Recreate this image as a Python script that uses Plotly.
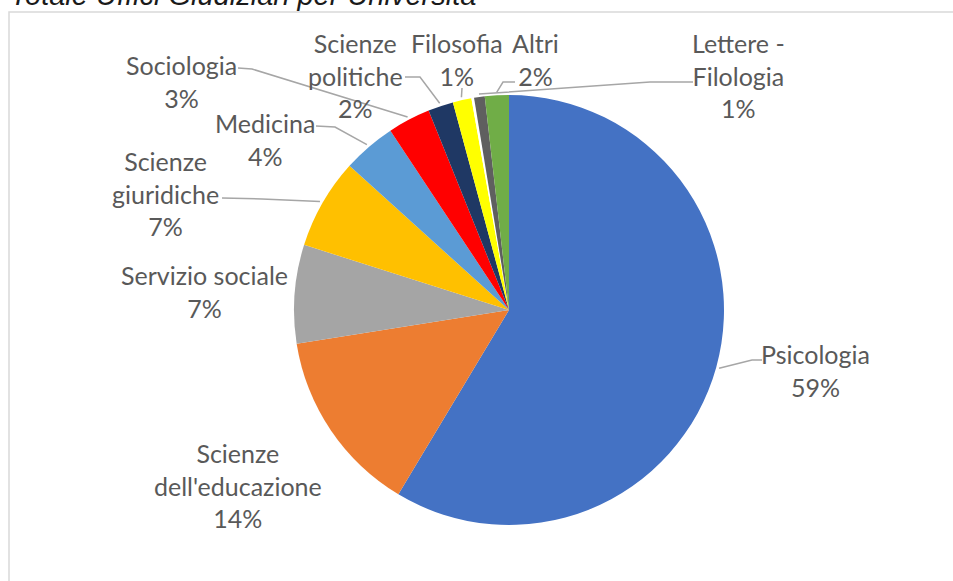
import math
import plotly.graph_objects as go

W, H = 953, 581

# ---- data ----
categories = ["Psicologia", "Scienze dell'educazione", "Servizio sociale", "Scienze giuridiche",
              "Medicina", "Sociologia", "Scienze politiche", "Filosofia", " ",
              "Lettere - Filologia", "Altri"]
values = [58.6, 13.9, 7.4, 6.8, 4.0, 3.2, 1.9, 1.4, 0.2, 0.8, 1.8]
pct_labels = ["59%", "14%", "7%", "7%", "4%", "3%", "2%", "1%", "", "1%", "2%"]
label_texts = ["Psicologia", "Scienze<br>dell'educazione", "Servizio sociale", "Scienze<br>giuridiche",
               "Medicina", "Sociologia", "Scienze<br>politiche", "Filosofia", "",
               "Lettere -<br>Filologia", "Altri"]
colors = ["#4472C4", "#ED7D31", "#A5A5A5", "#FFC000", "#5B9BD5", "#FF0000",
          "#1F3864", "#FFFF00", "#FFFFFF", "#5F5F5F", "#70AD47"]

# ---- layout (pixels) ----
cx, cy, r = 509, 310, 215

def px(x):
    return x / W

def py(y):
    return 1 - y / H

# label centre positions (pixels, top line y)
label_pos = {
    "Psicologia": (815, 353),
    "Scienze dell'educazione": (238, 452),
    "Servizio sociale": (204, 274),
    "Scienze giuridiche": (165, 160),
    "Medicina": (265, 122),
    "Sociologia": (181, 64),
    "Scienze politiche": (355, 42),
    "Filosofia": (457, 42),
    "Lettere - Filologia": (738, 42),
    "Altri": (535, 42),
}
# leader line label-side points (start, elbow)
leader_pts = {
    "Psicologia": [(762, 360), (752, 360)],
    "Scienze giuridiche": [(222, 198), (262, 199)],
    "Medicina": [(316, 126), (335, 127)],
    "Sociologia": [(238, 68), (252, 69)],
    "Scienze politiche": [(405, 77), (420, 77)],
    "Filosofia": [(462, 88)],
    "Altri": [(515, 82), (503, 82)],
    "Lettere - Filologia": [(693, 82), (650, 82)],
}

fig = go.Figure()
fig.add_trace(go.Pie(
    labels=categories, values=values, sort=False, direction="clockwise", rotation=0,
    marker=dict(colors=colors, line=dict(width=0)),
    textinfo="none", hoverinfo="label+percent", showlegend=False,
    domain=dict(x=[px(cx - r), px(cx + r)], y=[py(cy + r), py(cy - r)]),
))

shapes = [dict(type="rect", xref="paper", yref="paper", x0=px(9), x1=px(W + 10),
               y0=py(H + 10), y1=py(12), line=dict(color="#D9D9D9", width=1.5),
               fillcolor="rgba(0,0,0,0)", layer="below")]
annotations = []

total = sum(values)
cum = 0.0
for cat, v, pl, lt in zip(categories, values, pct_labels, label_texts):
    mid = (cum + v / 2) / total * 2 * math.pi
    cum += v
    if cat not in label_pos:
        continue
    lx, ly = label_pos[cat]
    annotations.append(dict(
        x=px(lx), y=py(ly - 16), xref="paper", yref="paper", xanchor="center", yanchor="top",
        text=lt + "<br>" + pl, showarrow=False, align="center",
        font=dict(family="Lato, Open Sans, sans-serif", size=25, color="#595959"),
    ))
    if cat in leader_pts:
        tx = cx + (r + 3) * math.sin(mid)
        ty = cy - (r + 3) * math.cos(mid)
        pts = leader_pts[cat] + [(tx, ty)]
        path = "M " + " L ".join(f"{px(a):.5f},{py(b):.5f}" for a, b in pts)
        shapes.append(dict(type="path", xref="paper", yref="paper", path=path,
                           line=dict(color="#A6A6A6", width=1.5)))

annotations.append(dict(
    x=px(8), y=py(13), xref="paper", yref="paper", xanchor="left", yanchor="bottom",
    text="<i>Totale Uffici Giudiziari per Università</i>", showarrow=False,
    font=dict(family="Liberation Sans, Arial, sans-serif", size=29, color="#1a1a1a"),
))

fig.update_layout(
    width=W, height=H, margin=dict(l=0, r=0, t=0, b=0),
    paper_bgcolor="white", plot_bgcolor="white",
    shapes=shapes, annotations=annotations,
)
fig.write_html(
    "out.html",
    config={"displayModeBar": False},
    post_script="document.body.style.margin='0';document.body.style.overflow='hidden';",
)
